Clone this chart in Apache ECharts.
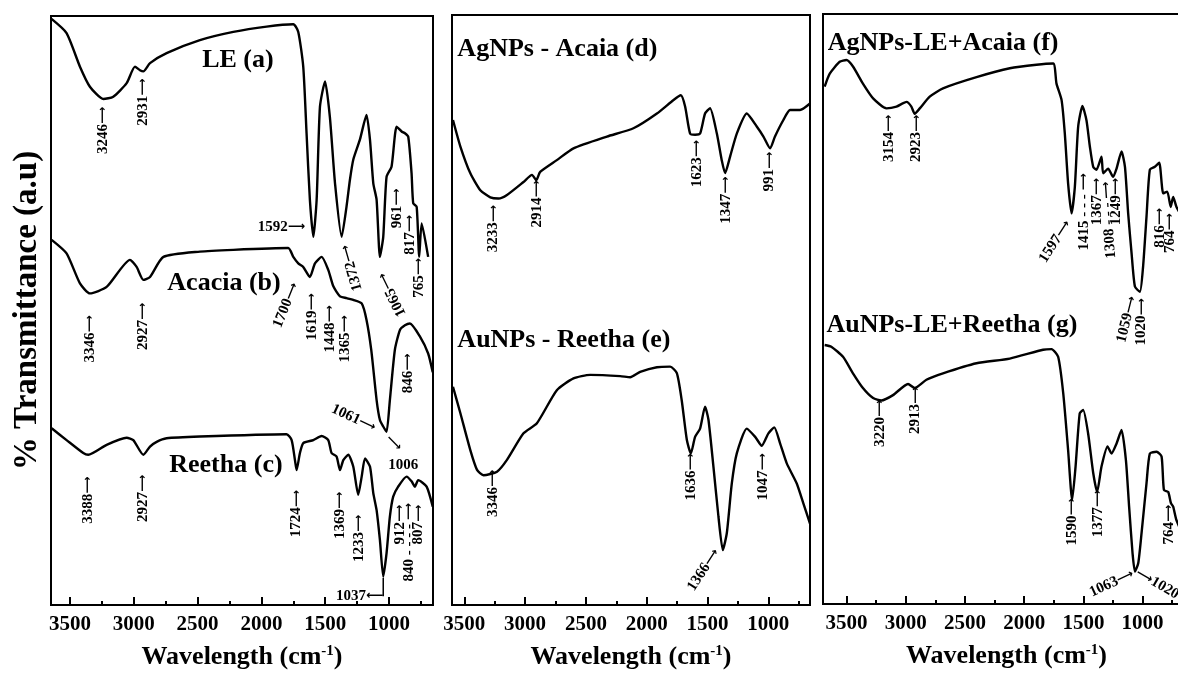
<!DOCTYPE html>
<html>
<head>
<meta charset="utf-8">
<title>FTIR spectra</title>
<script src="https://cdn.jsdelivr.net/npm/echarts@6/dist/echarts.min.js"></script>
<style>
  html, body { margin: 0; padding: 0; background: #fff; overflow: hidden; }
  #chart { width: 1178px; height: 674px; }
</style>
</head>
<body>
<div id="chart"></div>
<script>
// ---- panel 1: LE (a), Acacia (b), Reetha (c)
const leWave = [3645,3527,3422,3344,3239,3161,3056,2991,2952,2925,2873,2743,2482,2220,1959,1750,1711,1672,1646,1620,1593,1567,1541,1501,1463,1423,1371,1333,1306,1280,1228,1176,1149,1123,1097,1071,1045,1019,980,940,901,875,849,823,810,783,763,744,693]
const leT = [99.5,97.1,91.4,88.0,85.9,86.3,88.6,91.4,90.8,90.6,92.0,93.7,95.9,97.3,98.2,98.6,97.3,91.4,80.1,68.8,62.5,68.8,84.6,88.9,82.8,71.6,62.5,67.6,72.2,75.6,79.0,83.2,79.0,71.6,68.8,59.1,62.5,72.7,74.4,81.2,80.4,80.1,79.5,73.3,68.2,67.6,59.1,64.8,59.1]

const acWave = [3644,3527,3422,3344,3213,3030,2978,2925,2873,2768,2482,2220,1790,1750,1711,1672,1620,1580,1528,1476,1436,1384,1332,1280,1214,1176,1139,1097,1071,1045,1019,993,954,914,875,836,758,693,657]
const acT = [62.0,59.7,54.6,52.9,54.0,58.6,57.4,55.2,55.7,59.1,60.0,60.3,60.6,59.1,58.0,57.4,55.7,58.0,59.1,56.9,54.1,52.4,52.1,51.8,51.2,48.4,43.3,34.8,31.4,30.3,29.4,34.8,43.3,46.7,47.5,47.8,45.6,42.7,39.5]

const reWave = [3644,3527,3396,3357,3213,3056,3004,2925,2873,2821,2743,2482,1803,1763,1737,1724,1698,1672,1593,1528,1476,1450,1411,1384,1358,1319,1280,1241,1214,1188,1149,1123,1097,1071,1045,1019,993,967,928,862,823,797,771,705,657]
const reT = [30.0,28.0,25.8,25.5,27.2,28.4,28.0,25.5,26.9,27.7,28.3,28.6,29.0,28.0,24.6,22.9,25.8,27.5,28.0,28.7,28.0,25.8,25.2,22.9,24.6,25.5,23.5,18.7,21.8,24.9,23.5,19.0,16.1,11.0,4.8,8.8,15.0,18.4,20.1,21.8,21.0,20.1,21.2,20.1,16.7]

// ---- panel 2: AgNPs - Acaia (d), AuNPs - Reetha (e)
const agWave = [3593,3532,3451,3368,3286,3219,3149,3013,2943,2908,2876,2739,2602,2327,2109,1916,1779,1719,1684,1643,1602,1561,1520,1479,1423,1383,1355,1314,1259,1177,1095,1040,985,945,876,821,739,657]
const agT = [82.2,77.7,73.2,70.3,69.1,68.9,69.5,71.7,72.9,72.0,73.4,75.4,77.4,79.4,80.8,83.3,85.6,86.4,84.5,79.9,79.7,79.9,83.3,84.2,79.9,75.4,73.2,76.0,79.9,83.3,81.1,79.4,77.4,79.4,82.2,83.9,83.9,85.0]

const auWave = [3593,3532,3451,3395,3342,3231,3149,3013,2903,2739,2602,2465,2218,2136,2054,1916,1807,1752,1712,1670,1637,1602,1561,1520,1492,1451,1410,1374,1341,1300,1259,1177,1108,1054,999,951,903,848,766,711,657]
const auT = [37.0,32.5,26.3,22.9,22.0,22.6,24.6,29.1,30.8,36.4,38.4,39.0,38.8,38.6,39.5,40.3,40.4,39.3,34.7,28.0,25.7,28.5,29.9,33.6,31.4,23.4,15.0,9.3,12.2,20.6,25.7,29.9,28.5,27.0,29.1,30.1,27.4,24.0,20.6,17.2,13.8]

// ---- panel 3: AgNPs-LE+Acaia (f), AuNPs-LE+Reetha (g)
const fWave = [3684,3641,3557,3500,3445,3361,3275,3162,3078,2993,2952,2924,2881,2797,2685,2402,2121,1896,1755,1727,1684,1657,1629,1600,1572,1544,1508,1474,1445,1417,1390,1347,1333,1291,1249,1220,1178,1149,1122,1093,1065,1023,996,967,939,897,860,826,792,763,742,714,620]
const fT = [87.7,89.9,91.9,92.2,91.1,88.2,85.7,84.0,84.3,85.1,84.3,83.1,84.0,86.0,87.4,89.3,90.8,91.4,91.6,88.2,85.4,79.8,71.3,66.2,70.7,80.9,84.4,82.0,77.5,74.1,73.6,75.8,73.0,73.8,72.4,73.8,76.7,74.1,66.2,59.4,53.8,52.9,57.2,65.7,73.6,74.1,74.8,69.6,69.9,67.3,69.0,67.3,64.0]

const gWave = [3684,3628,3529,3445,3361,3275,3205,3107,2980,2924,2825,2685,2402,2121,1840,1769,1713,1670,1629,1595,1566,1531,1502,1460,1417,1384,1347,1296,1263,1220,1178,1141,1114,1085,1065,1037,1009,967,939,882,840,820,784,761,742,714,620]
const gT = [43.9,43.6,41.9,39.1,36.6,34.9,34.5,35.4,37.3,36.6,38.0,39.1,40.8,41.6,43.1,43.2,41.9,35.7,26.1,17.6,23.3,32.3,32.9,28.9,22.2,19.0,23.3,26.7,25.5,27.2,29.5,24.4,16.5,8.6,5.5,6.9,12.0,20.5,25.5,25.8,25.0,19.3,19.0,17.1,16.5,14.2,10.0]

const majorTicks = [1000, 1500, 2000, 2500, 3000, 3500]
const minorTicks = [750, 1250, 1750, 2250, 2750, 3250]

// peak labels: [wavenumber, transmittance at arrow tip, text, angle, align]
const p1Notes = [
  [3239, 84.6, '3246→', 90], [2925, 89.4, '2931→', 90], [1658, 64.2, '1592→', 0],
  [1345, 61.1, '1372→', 106], [1057, 56.3, '1065→', 116], [940, 70.7, '961→', 90],
  [836, 66.2, '817→', 90], [763, 58.9, '765→', 90],
  [3344, 49.2, '3346→', 90], [2925, 51.3, '2927→', 90], [1737, 54.6, '1700→', 68],
  [1606, 52.9, '1619→', 90], [1463, 50.9, '1448→', 90], [1345, 49.2, '1365→', 90],
  [1110, 30.0, '1061→', -25], [849, 42.7, '846→', 90], [1009, 28.5, '→', -45, 'left'],
  [888, 23.8, '1006', 0, 'center'],
  [3357, 21.8, '3388→', 90], [2925, 22.1, '2927→', 90], [1724, 19.5, '1724→', 90],
  [1383, 19.2, '1369→', 90], [1237, 15.3, '1233→', 90], [1045, 1.5, '1037←', 0],
  [914, 17.0, '912→', 90], [844, 17.3, '840 - - - - →', 90], [769, 17.0, '807→', 90]
]
const p2Notes = [
  [3259, 67.8, '3233→', 90], [2903, 72.0, '2914→', 90], [1588, 78.8, '1623→', 90],
  [1347, 72.6, '1347→', 90], [991, 76.8, '991→', 90],
  [3264, 22.9, '3346→', 90], [1637, 25.7, '1636→', 90], [1426, 9.3, '1366→', 57],
  [1046, 25.7, '1047→', 90]
]
const p3Notes = [
  [3143, 82.9, '3154→', 90], [2909, 82.9, '2923→', 90], [1629, 64.8, '1597→', 57],
  [1494, 73.0, '1415 - - - →', 90], [1384, 72.2, '1367→', 90],
  [1310, 71.6, '1308 - - - →', 94], [1223, 72.2, '1249→', 90],
  [1085, 52.1, '1059→', 76], [1009, 51.8, '1020→', 90], [855, 67.1, '816→', 90],
  [770, 66.2, '764→', 90],
  [3214, 34.6, '3220→', 90], [2918, 36.8, '2913→', 90], [1595, 17.9, '1590→', 90],
  [1376, 19.3, '1377→', 90], [1080, 5.2, '1063→', 25], [1048, 5.4, '→1020', -30, 'left'],
  [775, 16.8, '764→', 90]
]
// sample names: [wavenumber, transmittance, text, align]
const p1Titles = [[2184, 92.4, 'LE (a)', 'center'], [2293, 54.7, 'Acacia (b)', 'center'], [2278, 23.8, 'Reetha (c)', 'center']]
const p2Titles = [[3557, 94.2, 'AgNPs - Acaia (d)', 'left'], [3557, 44.9, 'AuNPs - Reetha (e)', 'left']]
const p3Titles = [[3658, 95.1, 'AgNPs-LE+Acaia (f)', 'left'], [3669, 47.3, 'AuNPs-LE+Reetha (g)', 'left']]

const FONT = '"Liberation Serif", "DejaVu Serif", serif'

const panels = [
  { left: 51, width: 382, top: 16, height: 589, min: 655, max: 3649,
    spectra: [[leWave, leT], [acWave, acT], [reWave, reT]], notes: p1Notes, titles: p1Titles },
  { left: 452, width: 358, top: 15, height: 590, min: 657, max: 3601,
    spectra: [[agWave, agT], [auWave, auT]], notes: p2Notes, titles: p2Titles },
  { left: 823, width: 367, top: 14, height: 590, min: 600, max: 3698,
    spectra: [[fWave, fT], [gWave, gT]], notes: p3Notes, titles: p3Titles }
]

// long arrows drawn from DejaVu Sans, numbers in the serif
const arrowText = s => s.replace('→', '{a|⟶}').replace('←', '{a|⟵}')

const grid = [], xAxis = [], yAxis = [], series = []

panels.forEach((p, i) => {
  grid.push({
    left: p.left, width: p.width, top: p.top, height: p.height, outerBoundsMode: 'none',
    show: true, borderColor: '#000', borderWidth: 2, backgroundColor: 'transparent'
  })
  xAxis.push({
    type: 'value', gridIndex: i, min: p.min, max: p.max, inverse: true, position: 'bottom',
    name: 'Wavelength (cm{sup|-1})', nameLocation: 'middle', nameGap: 39,
    nameTextStyle: {
      fontFamily: FONT, fontWeight: 'bold', fontSize: 26, color: '#000',
      rich: { sup: { fontFamily: FONT, fontWeight: 'bold', fontSize: 15, color: '#000', verticalAlign: 'top' } }
    },
    axisLine: { show: true, onZero: false, lineStyle: { color: '#000', width: 2 } },
    axisTick: { show: true, inside: true, length: 8, customValues: majorTicks, lineStyle: { color: '#000', width: 2 } },
    axisLabel: {
      customValues: majorTicks, margin: 9, formatter: v => String(v),
      fontFamily: FONT, fontWeight: 'bold', fontSize: 21, color: '#000'
    },
    splitLine: { show: false }
  })
  // minor ticks in between
  xAxis.push({
    type: 'value', gridIndex: i, min: p.min, max: p.max, inverse: true, position: 'bottom',
    axisLine: { show: false },
    axisTick: { show: true, inside: true, length: 4, customValues: minorTicks, lineStyle: { color: '#000', width: 2 } },
    axisLabel: { show: false },
    splitLine: { show: false }
  })
  yAxis.push({
    type: 'value', gridIndex: i, min: 0, max: 100,
    name: i === 0 ? '% Transmittance (a.u)' : '', nameLocation: 'middle', nameGap: 7, nameRotate: 90,
    nameTextStyle: { fontFamily: FONT, fontWeight: 'bold', fontSize: 33, color: '#000' },
    axisLine: { show: false }, axisTick: { show: false }, axisLabel: { show: false }, splitLine: { show: false }
  })

  p.spectra.forEach(([w, t]) => {
    series.push({
      type: 'line', xAxisIndex: 2 * i, yAxisIndex: i,
      data: w.map((x, k) => [x, t[k]]),
      showSymbol: false, smooth: 0.2, silent: true,
      lineStyle: { color: '#000', width: 2.4 }
    })
  })

  series.push({
    type: 'scatter', xAxisIndex: 2 * i, yAxisIndex: i, symbolSize: 0, silent: true, z: 5,
    itemStyle: { opacity: 1 },
    data: p.notes.map(n => ({ value: [n[0], n[1]], name: n[2], label: { rotate: n[3], align: n[4] || 'right' } })),
    label: {
      show: true, position: 'inside', verticalAlign: 'middle', formatter: q => arrowText(q.name),
      fontFamily: FONT, fontWeight: 'bold', fontSize: 15, color: '#000', opacity: 1, textBorderWidth: 0,
      rich: { a: { fontFamily: '"DejaVu Sans"', fontSize: 12, color: '#000', textBorderWidth: 0 } }
    }
  })
  series.push({
    type: 'scatter', xAxisIndex: 2 * i, yAxisIndex: i, symbolSize: 0, silent: true, z: 5,
    itemStyle: { opacity: 1 },
    data: p.titles.map(n => ({ value: [n[0], n[1]], name: n[2], label: { align: n[3] } })),
    label: {
      show: true, position: 'inside', verticalAlign: 'middle', formatter: q => q.name,
      fontFamily: FONT, fontWeight: 'bold', fontSize: 26, color: '#000', opacity: 1, textBorderWidth: 0
    }
  })
})

// leader from the 1037 minimum down to its label
series.push({
  type: 'line', xAxisIndex: 0, yAxisIndex: 0, data: [[1045, 4.6], [1045, 1.5]],
  showSymbol: false, silent: true, lineStyle: { color: '#000', width: 1.5 }
})

const chart = echarts.init(document.getElementById('chart'))
chart.setOption({
  animation: false,
  backgroundColor: '#fff',
  grid, xAxis, yAxis, series
})
</script>
</body>
</html>
